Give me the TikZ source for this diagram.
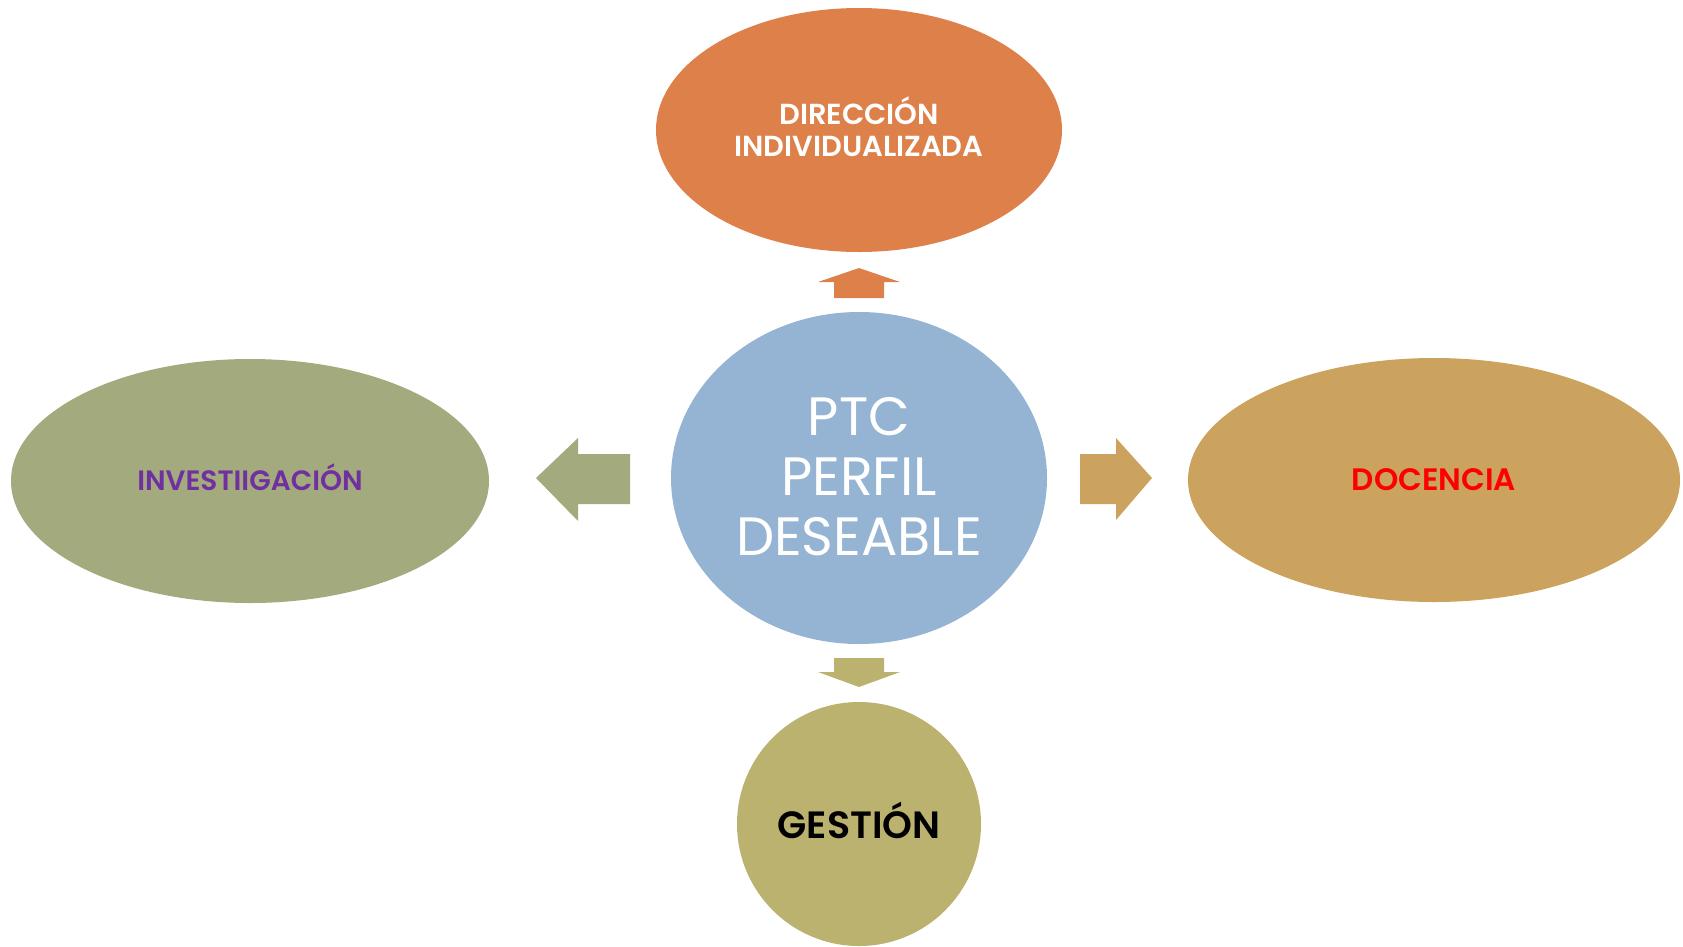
\documentclass[tikz,border=0pt]{standalone}
\usepackage{fontspec}
\setmainfont{Poppins}
\newfontfamily\boldlbl{Poppins}[UprightFont=* SemiBold]
\definecolor{corange}{HTML}{DE8049}
\definecolor{cblue}{HTML}{95B4D3}
\definecolor{cgreen}{HTML}{A3AA7E}
\definecolor{cgold}{HTML}{CCA35E}
\definecolor{colive}{HTML}{BCB26F}
\definecolor{cpurple}{HTML}{7030A0}
\tikzset{
  lbl/.style={anchor=base, inner sep=0pt, align=center, font=\boldlbl\fontsize{28}{33}\selectfont},
}
\begin{document}
\begin{tikzpicture}[x=1pt,y=-1pt]
\useasboundingbox (0,0) rectangle (1683,946);
% ellipses
\fill[corange] (859,130) ellipse [x radius=203, y radius=122];
\fill[cblue] (859,478) ellipse [x radius=188, y radius=166];
\fill[cgreen] (250,481) ellipse [x radius=239, y radius=122];
\fill[cgold] (1434,480) ellipse [x radius=246, y radius=122];
\fill[colive] (859,824) circle [radius=122];
% arrows
\fill[corange] (859,268) -- (900,282) -- (884,282) -- (884,298) -- (834,298) -- (834,282) -- (818,282) -- cycle;
\fill[cgreen] (536,478) -- (578,438) -- (578,454) -- (630,454) -- (630,504) -- (578,504) -- (578,521) -- cycle;
\fill[cgold] (1152,478) -- (1116,438) -- (1116,454) -- (1080,454) -- (1080,504) -- (1116,504) -- (1116,520) -- cycle;
\fill[colive] (859,687) -- (900,672) -- (884,672) -- (884,658) -- (834,658) -- (834,672) -- (818,672) -- cycle;
% texts
\node[lbl, text=white, font=\boldlbl\fontsize{29}{32}\selectfont] (dir) at (859,156) {DIRECCIÓN\\INDIVIDUALIZADA};
\node[anchor=base, inner sep=0pt, align=center, text=white, font=\fontsize{54}{60}\selectfont] (ptc) at (859,555) {PTC\\PERFIL\\DESEABLE};
\node[lbl, text=cpurple] (inv) at (250,490) {INVESTIIGACIÓN};
\node[lbl, text=red, font=\boldlbl\fontsize{31}{33}\selectfont] (doc) at (1434,490) {DOCENCIA};
\node[lbl, text=black, font=\boldlbl\fontsize{38}{44}\selectfont] (ges) at (859,838) {GESTIÓN};
\end{tikzpicture}
\end{document}
